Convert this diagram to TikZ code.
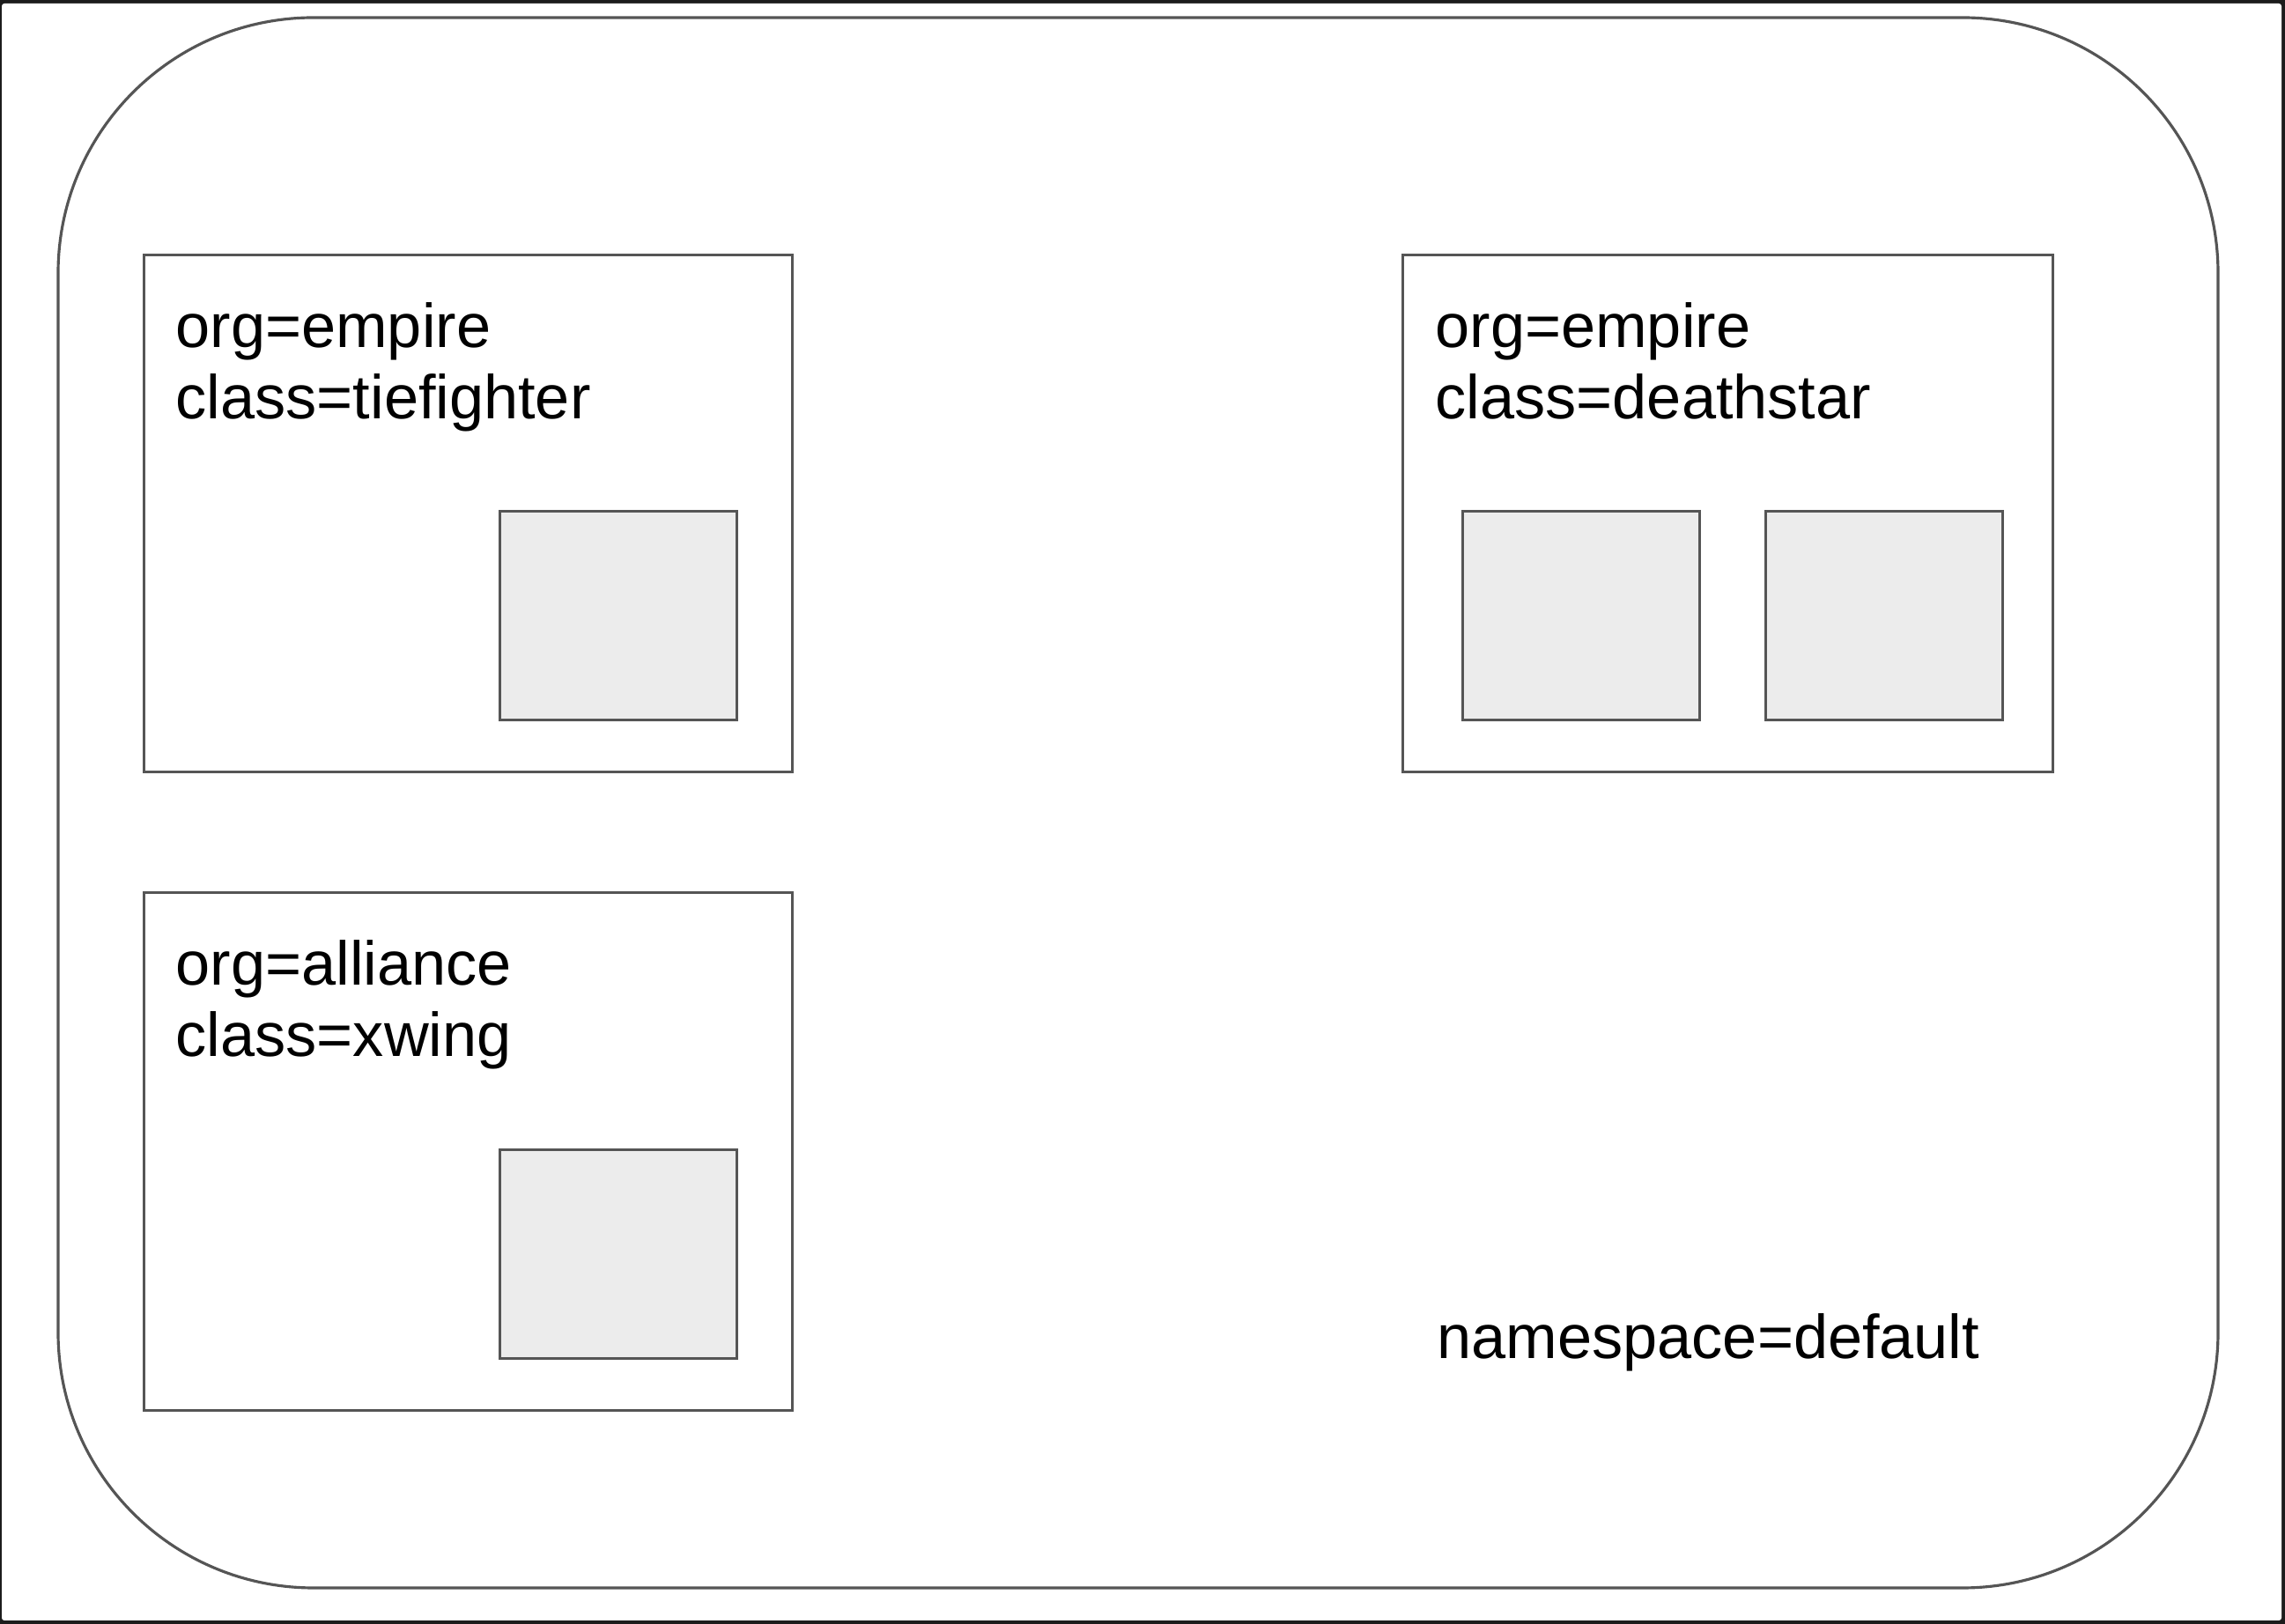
\documentclass[tikz,border=0pt]{standalone}
\usepackage{fontspec}
\setmainfont{Liberation Sans}
\usepackage{xcolor}
\usetikzlibrary{positioning}
\definecolor{edgegray}{RGB}{85,85,85}
\definecolor{podgray}{RGB}{236,236,236}
\definecolor{framedark}{RGB}{28,28,28}

\begin{document}
\begin{tikzpicture}[
  svcbox/.style={draw=edgegray, line width=0.9pt, fill=white, anchor=north west, inner sep=0pt},
  podbox/.style={draw=edgegray, line width=0.9pt, fill=podgray, anchor=north west, inner sep=0pt, minimum width=2.69cm, minimum height=2.37cm},
  lbl/.style={anchor=base west, align=left, inner sep=0pt, font=\fontsize{20}{23.3}\selectfont}
]
% screen frame
\fill[framedark] (0,0) rectangle (25.94,18.44);
\fill[white, rounded corners=0.03cm] (0.02,0.04) rectangle (25.90,18.40);
\useasboundingbox (0,0) rectangle (25.94,18.44);

% namespace
\node[draw=edgegray, line width=0.9pt, rounded corners=2.9cm, minimum width=24.52cm, minimum height=17.83cm, inner sep=0pt] (ns) at (12.92,9.325) {};

% groups
\node[svcbox, minimum width=7.36cm, minimum height=5.87cm] (tie) at (1.62,15.56) {};
\node[svcbox, minimum width=7.38cm, minimum height=5.87cm] (death) at (15.91,15.56) {};
\node[svcbox, minimum width=7.36cm, minimum height=5.88cm] (xwing) at (1.62,8.32) {};

% pods
\node[podbox] (tiepod) at (5.66,12.65) {};
\node[podbox] (deathpodA) at (16.59,12.65) {};
\node[podbox] (deathpodB) at (20.03,12.65) {};
\node[podbox] (xwingpod) at (5.66,5.40) {};

% labels (base = last line)
\node[lbl] (tielbl) at (1.99,13.68) {org=empire\\class=tiefighter};
\node[lbl] (deathlbl) at (16.29,13.68) {org=empire\\class=deathstar};
\node[lbl] (xwinglbl) at (1.99,6.44) {org=alliance\\class=xwing};
\node[lbl] (nslbl) at (16.31,3.01) {namespace=default};
\end{tikzpicture}
\end{document}
